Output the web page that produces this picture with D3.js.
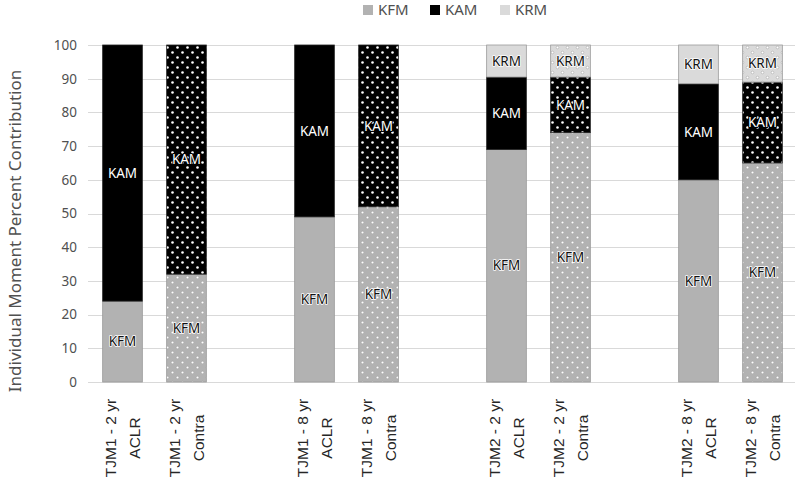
<!DOCTYPE html>
<html>
<head>
<meta charset="utf-8">
<script src="https://cdn.jsdelivr.net/npm/d3@7"></script>
<style>
  html, body { margin: 0; padding: 0; background: #fff; }
  svg { display: block; }
</style>
</head>
<body>
<svg id="chart" width="800" height="486"></svg>
<script>
// ---- data ----
const groups = ["TJM1 - 2 yr", "TJM1 - 8 yr", "TJM2 - 2 yr", "TJM2 - 8 yr"];
const sides = ["ACLR", "Contra"];
const seriesNames = ["KFM", "KAM", "KRM"];
// values per bar in order: [g0-ACLR, g0-Contra, g1-ACLR, g1-Contra, ...]
const KFM = [24, 32, 49, 52, 69, 74, 60, 65];
const KAM = [76, 68, 51, 48, 21.5, 16.5, 28.5, 24];
const KRM = [0, 0, 0, 0, 9.5, 9.5, 11.5, 11];
const yTicks = [0, 10, 20, 30, 40, 50, 60, 70, 80, 90, 100];

(function () {
// ---- build rows ----
const rows = [];
groups.forEach((g, gi) => sides.forEach((s, si) => {
  const i = gi * 2 + si;
  rows.push({ group: g, side: s, KFM: KFM[i], KAM: KAM[i], KRM: KRM[i] });
}));

const colors = { KFM: "#b2b2b2", KAM: "#000000", KRM: "#dadada" };
const labelColors = { KFM: "#111", KAM: "#fff", KRM: "#111" };

const svg = d3.select("#chart");
const mLeft = 90.5, mRight = 794.5, mTop = 45, mBottom = 382;

const x0 = d3.scaleBand().domain(groups).range([mLeft, mRight]).paddingInner(1/3).paddingOuter(0);
const x1 = d3.scaleBand().domain(sides).range([0, x0.bandwidth()]).paddingInner(0.38).paddingOuter(0.19);
const y = d3.scaleLinear().domain([0, 100]).range([mBottom, mTop]);

// patterns
const defs = svg.append("defs");
seriesNames.forEach(k => {
  const p = defs.append("pattern").attr("id", "pat-" + k)
    .attr("patternUnits", "userSpaceOnUse").attr("width", 10).attr("height", 10);
  p.append("rect").attr("width", 10).attr("height", 10).attr("fill", colors[k]);
  [[2.5, 2.5], [7.5, 7.5]].forEach(([cx, cy]) => {
    p.append("circle").attr("cx", cx).attr("cy", cy).attr("r", 1.3)
      .attr("fill", "#fff")
      .attr("stroke", k === "KAM" ? "none" : "#8a8a8a").attr("stroke-width", 0.4);
  });
});

// gridlines
svg.append("g").selectAll("line").data(yTicks).join("line")
  .attr("x1", 88).attr("x2", 795)
  .attr("y1", d => Math.round(y(d)) + 0.5).attr("y2", d => Math.round(y(d)) + 0.5)
  .attr("stroke", "#d9d9d9").attr("stroke-width", 1);

// y axis
const yAxis = d3.axisLeft(y).tickValues(yTicks).tickSize(0).tickPadding(0);
const ya = svg.append("g").attr("transform", "translate(77,0)").call(yAxis);
ya.select(".domain").remove();
ya.selectAll("text").attr("font-family", "Noto Sans, sans-serif").attr("font-size", 13.5)
  .attr("fill", "#505050");

// y title
svg.append("text")
  .attr("transform", "translate(21,231) rotate(-90)")
  .attr("text-anchor", "middle")
  .attr("font-family", "Noto Sans, sans-serif").attr("font-size", 17)
  .attr("fill", "#505050")
  .text("Individual Moment Percent Contribution");

// stacked bars
const stack = d3.stack().keys(seriesNames);
const stacked = stack(rows);
const barsG = svg.append("g");
stacked.forEach(layer => {
  const key = layer.key;
  layer.forEach(seg => {
    const d = seg.data;
    if (d[key] <= 0) return;
    const bx = x0(d.group) + x1(d.side);
    const fill = d.side === "Contra" ? "url(#pat-" + key + ")" : colors[key];
    barsG.append("rect")
      .attr("x", bx).attr("width", x1.bandwidth())
      .attr("y", y(seg[1])).attr("height", y(seg[0]) - y(seg[1]))
      .attr("fill", fill)
      .attr("stroke", key === "KAM" ? "#222" : "#9a9a9a").attr("stroke-width", 0.8);
    const ty = (y(seg[0]) + y(seg[1])) / 2;
    barsG.append("text")
      .attr("x", bx + x1.bandwidth() / 2).attr("y", ty)
      .attr("dy", "0.35em").attr("text-anchor", "middle")
      .attr("font-family", "Noto Sans, sans-serif").attr("font-size", 13.5)
      .attr("fill", labelColors[key])
      .attr("stroke", key === "KAM" ? (d.side === "Contra" ? "#000" : "none") : "#fff")
      .attr("stroke-width", key === "KAM" ? 2 : 1.6).attr("paint-order", "stroke")
      .attr("stroke-linejoin", "round")
      .text(key);
  });
});

// x labels
const xl = svg.append("g");
rows.forEach(d => {
  const cx = x0(d.group) + x1(d.side) + x1.bandwidth() / 2;
  const t = xl.append("text")
    .attr("transform", `translate(${cx},438) rotate(-90)`)
    .attr("text-anchor", "middle")
    .attr("font-family", "Liberation Sans, Arial, sans-serif").attr("font-size", 15.5)
    .attr("fill", "#262626");
  t.append("tspan").attr("x", 0).attr("y", -7).text(d.group);
  t.append("tspan").attr("x", 0).attr("y", 17).text(d.side);
});

// legend
const legend = svg.append("g");
const legX = [363, 430, 500];
seriesNames.forEach((k, i) => {
  legend.append("rect").attr("x", legX[i]).attr("y", 5).attr("width", 10).attr("height", 10)
    .attr("fill", colors[k]);
  legend.append("text").attr("x", legX[i] + 15).attr("y", 10).attr("dy", "0.35em")
    .attr("font-family", "Noto Sans, sans-serif").attr("font-size", 15)
    .attr("fill", "#505050").text(k);
});
})();
</script>
</body>
</html>
